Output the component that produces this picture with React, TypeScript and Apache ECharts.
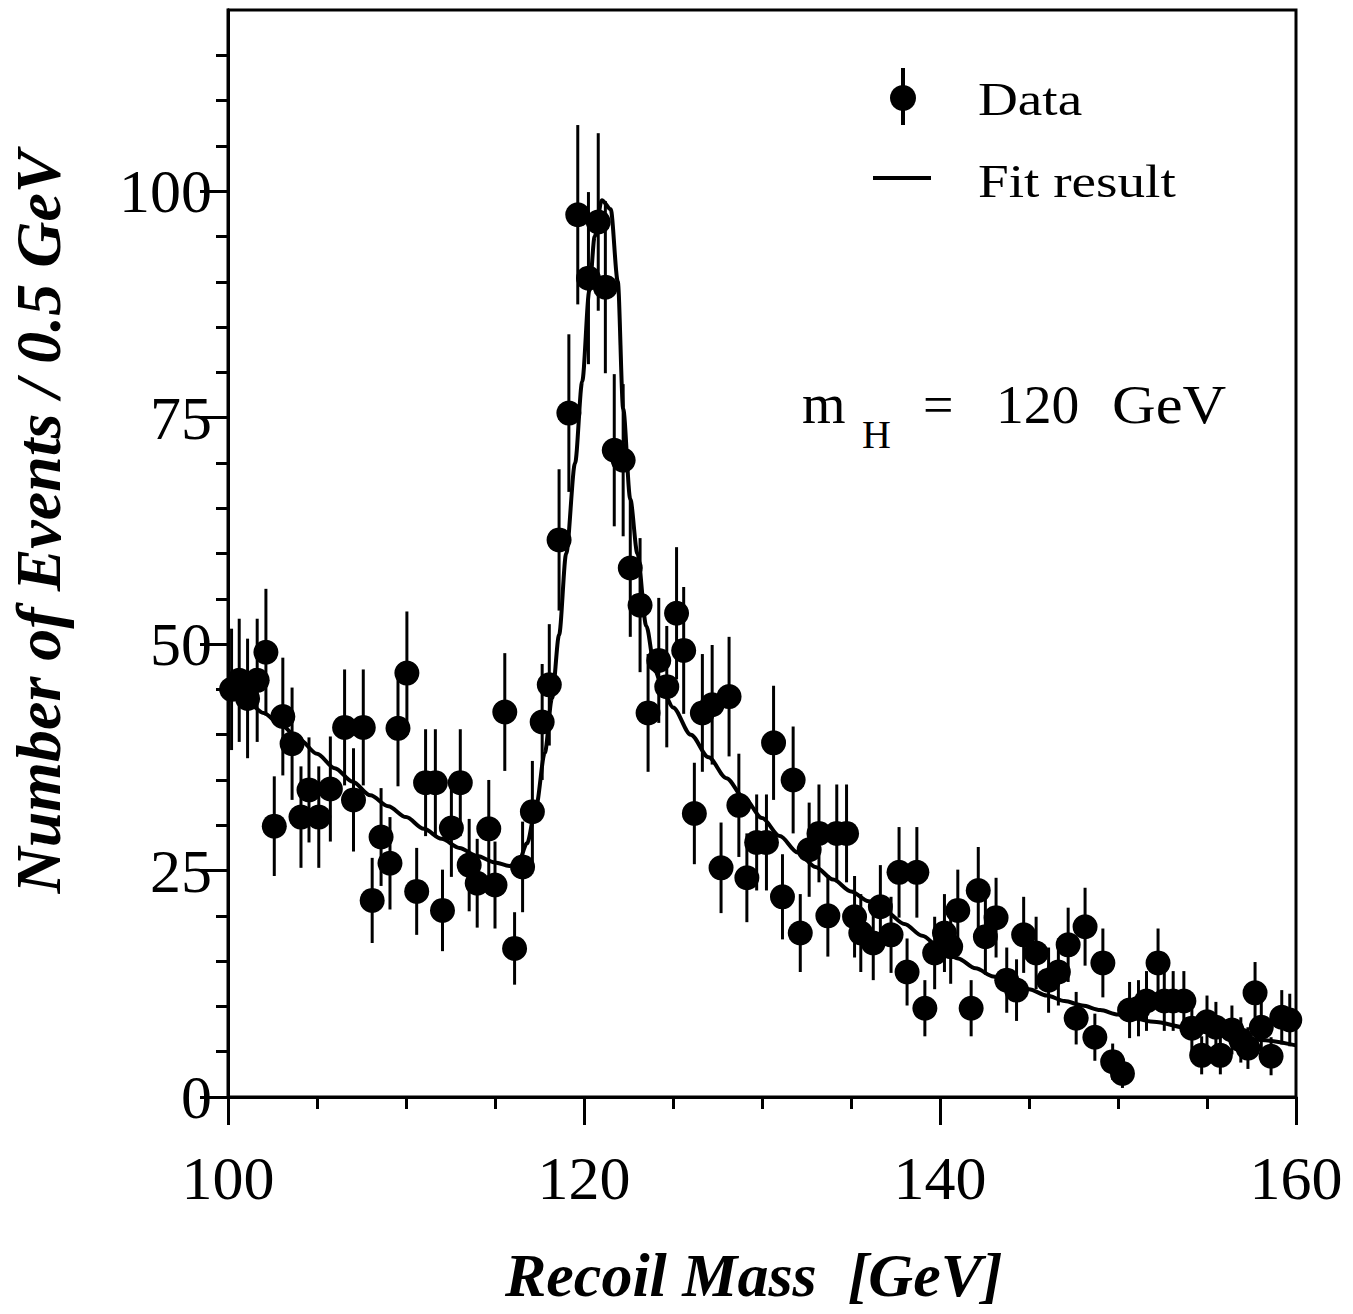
import React, { useEffect, useRef } from "react";
import * as echarts from "echarts";

// Data points: recoil mass (GeV), events per 0.5 GeV, error
const dataX = [100.2, 100.63, 101.1, 101.64, 102.13, 102.6, 103.08, 103.6, 104.1, 104.55, 105.1, 105.75, 106.55, 107.05, 107.6, 108.1, 108.6, 109.1, 109.55, 110.05, 110.6, 111.1, 111.65, 112.05, 112.55, 113.05, 113.55, 114.0, 114.65, 115.0, 115.55, 116.1, 116.55, 117.1, 117.65, 118.05, 118.6, 119.15, 119.65, 120.25, 120.8, 121.2, 121.7, 122.2, 122.6, 123.15, 123.6, 124.2, 124.65, 125.2, 125.6, 126.2, 126.65, 127.2, 127.7, 128.15, 128.7, 129.15, 129.7, 130.25, 130.65, 131.15, 131.75, 132.15, 132.65, 133.2, 133.7, 134.2, 134.75, 135.2, 135.55, 136.25, 136.65, 137.25, 137.7, 138.15, 138.7, 139.15, 139.7, 140.25, 140.6, 141.0, 141.75, 142.15, 142.55, 143.15, 143.75, 144.3, 144.7, 145.4, 146.1, 146.65, 147.2, 147.65, 148.15, 148.7, 149.15, 149.7, 150.25, 150.65, 151.15, 151.6, 152.25, 152.6, 153.1, 153.7, 154.15, 154.7, 155.0, 155.5, 155.75, 156.4, 156.9, 157.3, 157.7, 158.05, 158.6, 159.2, 159.65];
const dataY = [45, 46.0, 44.0, 46.0, 49.1, 29.9, 42.0, 39.0, 30.9, 33.9, 30.9, 34.0, 40.8, 32.8, 40.8, 21.7, 28.7, 25.8, 40.7, 46.8, 22.7, 34.7, 34.7, 20.6, 29.7, 34.7, 25.6, 23.6, 29.6, 23.4, 42.5, 16.4, 25.4, 31.5, 41.4, 45.5, 61.5, 75.5, 97.4, 90.4, 96.6, 89.4, 71.4, 70.3, 58.4, 54.3, 42.4, 48.2, 45.3, 53.4, 49.3, 31.3, 42.4, 43.3, 25.3, 44.2, 32.2, 24.2, 28.1, 28.1, 39.1, 22.1, 35.0, 18.1, 27.3, 29.1, 20.0, 29.1, 29.1, 19.9, 18.1, 17.0, 21.0, 17.9, 24.8, 13.8, 24.8, 9.8, 15.9, 18.1, 16.6, 20.6, 9.8, 22.8, 17.7, 19.8, 12.9, 11.8, 17.9, 15.9, 12.9, 13.8, 16.8, 8.7, 18.8, 6.6, 14.8, 3.9, 2.6, 9.6, 9.8, 10.6, 14.8, 10.6, 10.6, 10.6, 7.6, 4.6, 8.3, 7.7, 4.6, 7.4, 6.3, 5.4, 11.5, 7.7, 4.5, 8.8, 8.5];
const dataErr = [6.7, 6.8, 6.6, 6.8, 7.0, 5.5, 6.5, 6.2, 5.6, 5.8, 5.6, 5.8, 6.4, 5.7, 6.4, 4.7, 5.4, 5.1, 6.4, 6.8, 4.8, 5.9, 5.9, 4.5, 5.4, 5.9, 5.1, 4.9, 5.4, 4.8, 6.5, 4.0, 5.0, 5.6, 6.4, 6.7, 7.8, 8.7, 9.9, 9.5, 9.8, 9.5, 8.4, 8.4, 7.6, 7.4, 6.5, 6.9, 6.7, 7.3, 7.0, 5.6, 6.5, 6.6, 5.0, 6.6, 5.7, 4.9, 5.3, 5.3, 6.3, 4.7, 5.9, 4.3, 5.2, 5.4, 4.5, 5.4, 5.4, 4.5, 4.3, 4.1, 4.6, 4.2, 5.0, 3.7, 5.0, 3.1, 4.0, 4.3, 4.1, 4.5, 3.1, 4.8, 4.2, 4.4, 3.6, 3.4, 4.2, 4.0, 3.6, 3.7, 4.1, 2.9, 4.3, 2.6, 3.8, 2.0, 1.6, 3.1, 3.1, 3.3, 3.8, 3.3, 3.3, 3.3, 2.8, 2.1, 2.9, 2.8, 2.1, 2.7, 2.5, 2.3, 3.4, 2.8, 2.1, 3.0, 2.9];

// Fit result curve
const fitX = [100, 101, 102, 103, 104, 105, 106, 107, 108, 109, 110, 111, 112, 113, 114, 115, 115.8, 116.3, 116.8, 117.3, 117.8, 118.2, 118.6, 119.0, 119.5, 119.9, 120.3, 120.6, 121.0, 121.5, 121.9, 122.2, 122.6, 123.0, 123.5, 124.0, 124.5, 125, 126, 127, 128, 129, 130, 131, 132, 133, 134, 135, 136, 137, 138, 139, 140, 141, 142, 143, 144, 145, 146, 147, 148, 149, 150, 152, 154, 156, 158, 160];
const fitY = [45.0, 43.8, 42.4, 41.0, 39.5, 37.9, 36.3, 34.8, 33.3, 32.1, 30.9, 29.6, 28.5, 27.5, 26.6, 25.9, 25.5, 25.8, 28.0, 32.0, 38.0, 44.0, 51.0, 60.0, 70.0, 79.0, 89.0, 95.0, 99.0, 98.0, 90.0, 76.0, 66.0, 60.0, 52.0, 47.0, 44.5, 43.0, 40.0, 37.5, 35.2, 33.0, 30.8, 28.8, 27.0, 25.4, 24.0, 22.7, 21.6, 20.4, 19.1, 17.8, 16.5, 15.3, 14.2, 13.3, 12.6, 11.9, 11.2, 10.6, 10.1, 9.6, 9.1, 8.3, 7.6, 6.9, 6.3, 5.7];

// Axis ticks
const xMajorTicks = [100, 120, 140, 160];
const xMinorTicks = [105, 110, 115, 125, 130, 135, 145, 150, 155];
const yMajorTicks = [0, 25, 50, 75, 100];
const yMinorTicks = [5, 10, 15, 20, 30, 35, 40, 45, 55, 60, 65, 70, 80, 85, 90, 95, 105, 110, 115];

const SERIF = "'Liberation Serif', 'Times New Roman', serif";

export default function App() {
  const ref = useRef<HTMLDivElement>(null);
  useEffect(() => {
    document.body.style.margin = "0";
    const chart = echarts.init(ref.current!, null, { renderer: "svg" });
    const points = dataX.map((x, i) => [x, dataY[i], dataErr[i]]);
    const fit = fitX.map((x, i) => [x, fitY[i]]);
    const axisCommon = {
      type: "value",
      splitLine: { show: false },
      axisLine: { show: true, lineStyle: { color: "#000", width: 3 } },
    };
    chart.setOption({
      animation: false,
      backgroundColor: "#fff",
      textStyle: { fontFamily: SERIF, color: "#000" },
      grid: {
        left: 228,
        right: 57,
        top: 10,
        bottom: 217,
        show: true,
        borderColor: "#000",
        borderWidth: 3,
        backgroundColor: "transparent",
      },
      xAxis: [
        {
          ...axisCommon,
          min: 100,
          max: 160,
          position: "bottom",
          axisTick: { show: true, length: 12, customValues: xMinorTicks, lineStyle: { color: "#000", width: 3 } },
          axisLabel: { show: false },
        },
        {
          ...axisCommon,
          min: 100,
          max: 160,
          position: "bottom",
          axisTick: { show: true, length: 28, customValues: xMajorTicks, lineStyle: { color: "#000", width: 3 } },
          axisLabel: {
            show: true,
            customValues: xMajorTicks,
            fontSize: 62,
            fontFamily: SERIF,
            color: "#000",
            margin: 50,
          },
        },
      ],
      yAxis: [
        {
          ...axisCommon,
          min: 0,
          max: 120,
          position: "left",
          axisTick: { show: true, length: 12, customValues: yMinorTicks, lineStyle: { color: "#000", width: 3 } },
          axisLabel: { show: false },
        },
        {
          ...axisCommon,
          min: 0,
          max: 120,
          position: "left",
          axisTick: { show: true, length: 28, customValues: yMajorTicks, lineStyle: { color: "#000", width: 3 } },
          axisLabel: {
            show: true,
            customValues: yMajorTicks,
            fontSize: 62,
            fontFamily: SERIF,
            color: "#000",
            margin: 16,
          },
        },
      ],
      series: [
        {
          type: "line",
          name: "Fit result",
          xAxisIndex: 0,
          yAxisIndex: 0,
          data: fit,
          showSymbol: false,
          smooth: 0.3,
          smoothMonotone: "x",
          lineStyle: { color: "#000", width: 4 },
          z: 2,
        },
        {
          type: "custom",
          name: "Data",
          xAxisIndex: 0,
          yAxisIndex: 0,
          data: points,
          z: 3,
          renderItem: (params: any, api: any) => {
            const x = api.value(0);
            const y = api.value(1);
            const e = api.value(2);
            const c = api.coord([x, y]);
            const t = api.coord([x, y + e]);
            const b = api.coord([x, y - e]);
            return {
              type: "group",
              children: [
                {
                  type: "line",
                  shape: { x1: c[0], y1: t[1], x2: c[0], y2: b[1] },
                  style: { stroke: "#000", lineWidth: 3 },
                },
                {
                  type: "circle",
                  shape: { cx: c[0], cy: c[1], r: 12.5 },
                  style: { fill: "#000" },
                },
              ],
            };
          },
        },
      ],
      graphic: [
        // Legend: Data
        { type: "line", shape: { x1: 903, y1: 68, x2: 903, y2: 125 }, style: { stroke: "#000", lineWidth: 4 } },
        { type: "circle", shape: { cx: 903, cy: 98, r: 13 }, style: { fill: "#000" } },
        {
          type: "text",
          x: 978,
          y: 100,
          scaleX: 1.2,
          style: { text: "Data", font: `46px ${SERIF}`, fill: "#000", verticalAlign: "middle", align: "left" },
        },
        // Legend: Fit result
        { type: "line", shape: { x1: 873, y1: 178, x2: 931, y2: 178 }, style: { stroke: "#000", lineWidth: 4 } },
        {
          type: "text",
          x: 978,
          y: 182,
          scaleX: 1.2,
          style: { text: "Fit result", font: `46px ${SERIF}`, fill: "#000", verticalAlign: "middle", align: "left" },
        },
        // m_H = 120 GeV
        {
          type: "text",
          x: 802,
          y: 404,
          style: { text: "m", font: `56px ${SERIF}`, fill: "#000", verticalAlign: "middle", align: "left" },
        },
        {
          type: "text",
          x: 862,
          y: 434,
          style: { text: "H", font: `40px ${SERIF}`, fill: "#000", verticalAlign: "middle", align: "left" },
        },
        {
          type: "text",
          x: 923,
          y: 405,
          style: { text: "=", font: `54px ${SERIF}`, fill: "#000", verticalAlign: "middle", align: "left" },
        },
        {
          type: "text",
          x: 996,
          y: 405,
          scaleX: 1.03,
          style: { text: "120", font: `54px ${SERIF}`, fill: "#000", verticalAlign: "middle", align: "left" },
        },
        {
          type: "text",
          x: 1112,
          y: 405,
          scaleX: 1.12,
          style: { text: "GeV", font: `54px ${SERIF}`, fill: "#000", verticalAlign: "middle", align: "left" },
        },
        // Axis titles
        {
          type: "text",
          x: 505,
          y: 1275,
          style: {
            text: "Recoil Mass  [GeV]",
            font: `italic bold 62px ${SERIF}`,
            fill: "#000",
            verticalAlign: "middle",
            align: "left",
          },
        },
        {
          type: "text",
          x: 38,
          y: 522,
          rotation: Math.PI / 2,
          style: {
            text: "Number of Events / 0.5 GeV",
            font: `italic bold 64px ${SERIF}`,
            fill: "#000",
            verticalAlign: "middle",
            align: "center",
          },
        },
      ],
    });
    return () => chart.dispose();
  }, []);
  return <div ref={ref} style={{ width: 1353, height: 1314 }} />;
}
